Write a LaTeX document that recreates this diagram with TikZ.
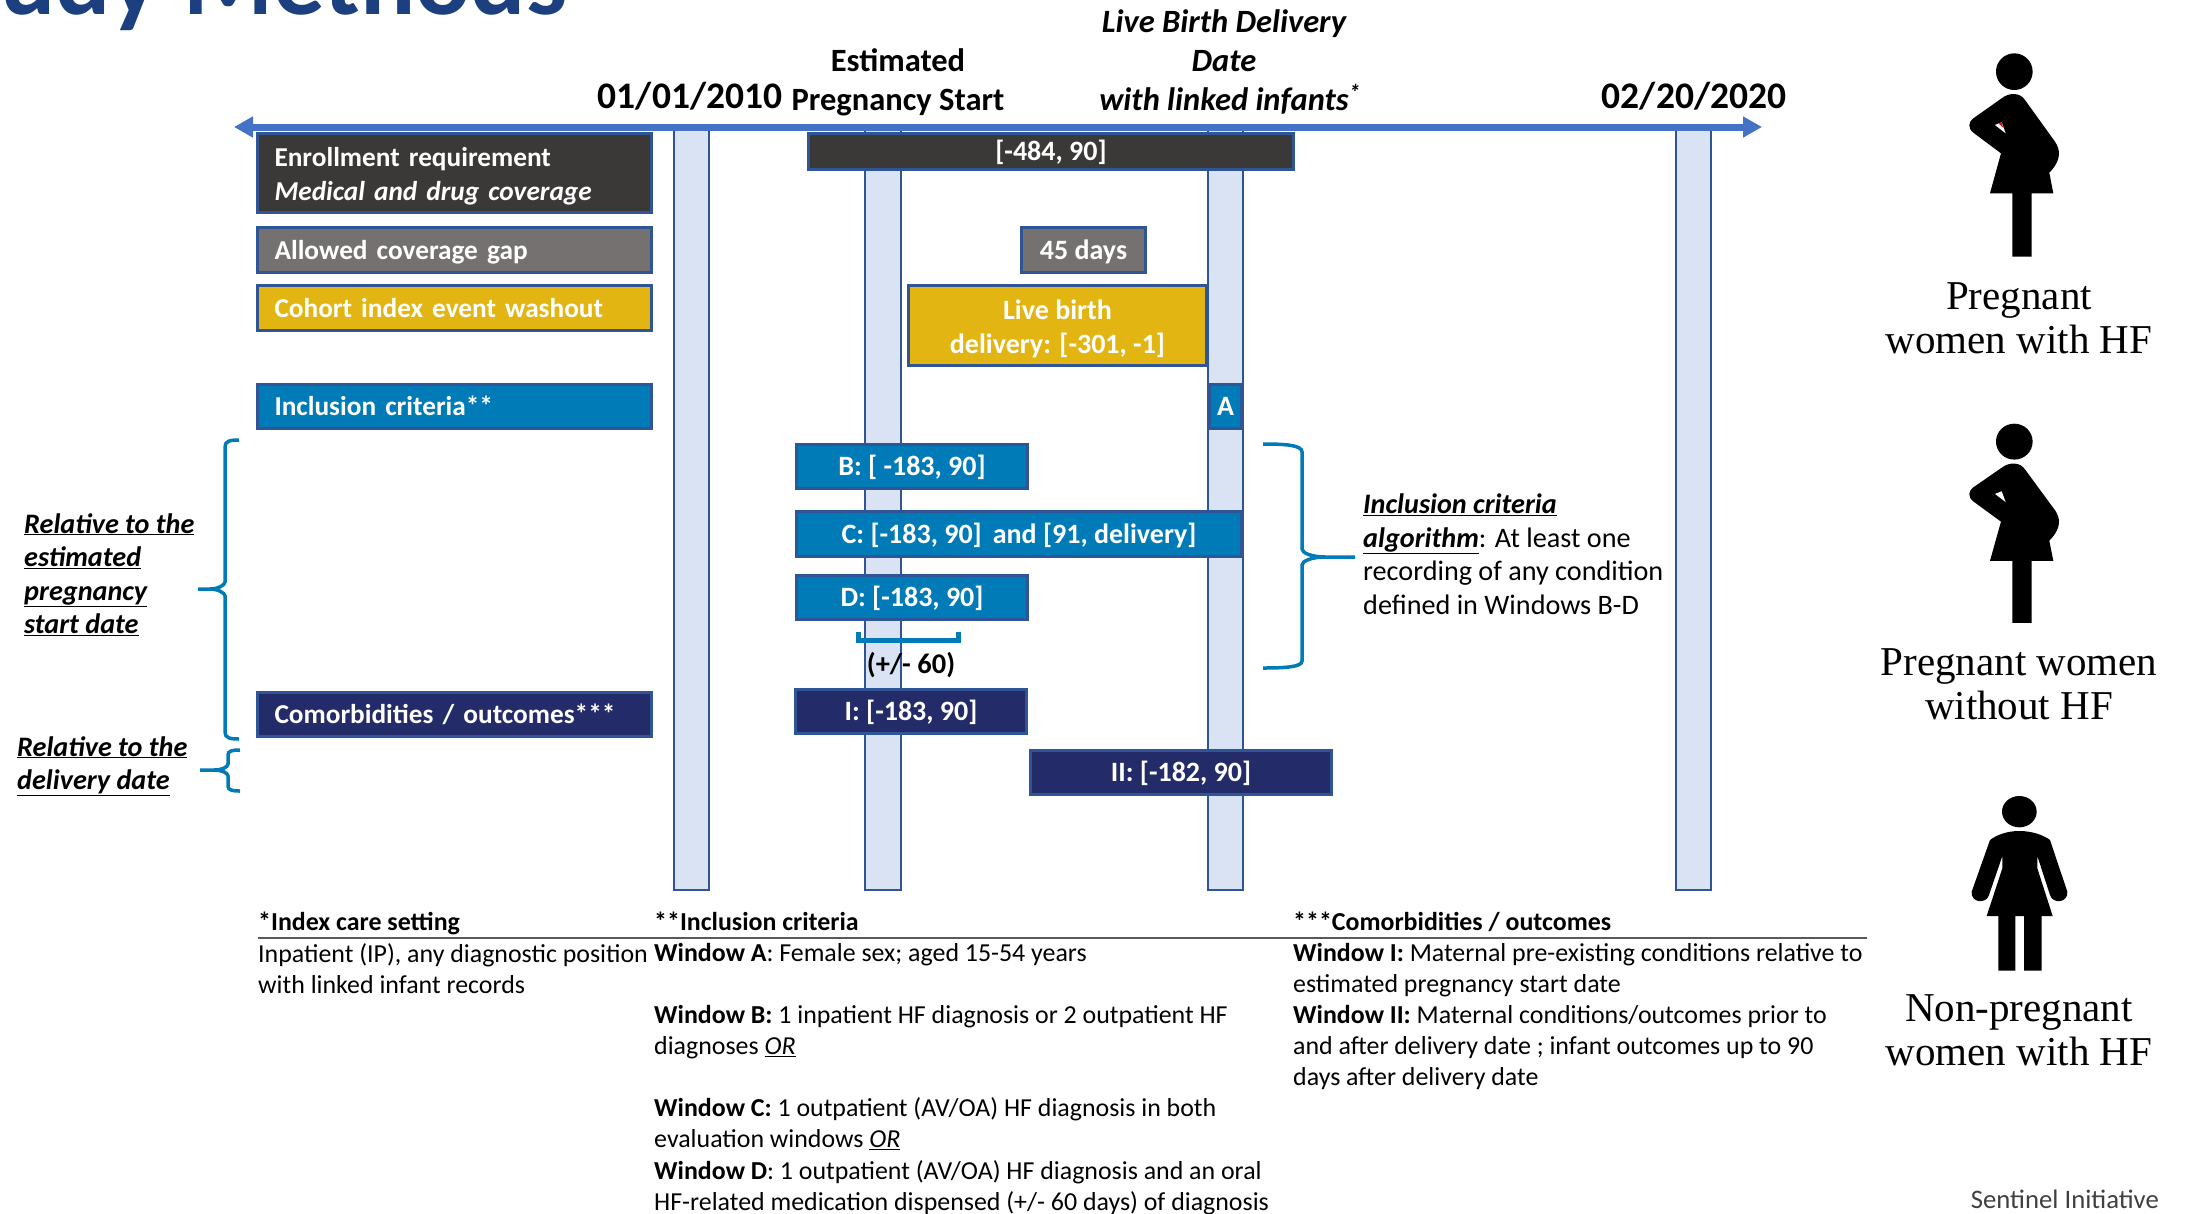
\documentclass[tikz,border=0pt]{standalone}
\usepackage{fontspec}
\setmainfont{Carlito}
\newfontfamily\capfont{Liberation Serif}
\usepackage{xcolor}
\usepackage{tikz}
\usetikzlibrary{arrows.meta}
\definecolor{barblue}{HTML}{DAE3F3}
\definecolor{edgeblue}{HTML}{2F5597}
\definecolor{axisblue}{HTML}{4472C4}
\definecolor{darkbox}{HTML}{3B3838}
\definecolor{greybox}{HTML}{767171}
\definecolor{goldbox}{HTML}{E3B512}
\definecolor{incbox}{HTML}{007BB8}
\definecolor{navybox}{HTML}{232C68}
\definecolor{titleblue}{HTML}{1B3F7F}
\tikzset{
	time bar/.style={draw=edgeblue,fill=barblue,line width=2.5pt},
	main box/.style={draw=edgeblue,line width=3pt,anchor=north west,text=white,inner sep=0pt,
		font=\bfseries\fontsize{28}{34}\selectfont},
	row box/.style={main box,font=\bfseries\fontsize{27.3}{34}\selectfont,minimum width=394pt,inner xsep=17pt,text width=360pt,align=left},
	window box/.style={main box,align=center},
	one line/.style={text height=24pt,text depth=6pt},
	head text/.style={inner sep=0pt,align=center,font=\bfseries\fontsize{32.5}{39}\selectfont},
	side text/.style={inner sep=0pt,align=left,anchor=north west,font=\bfseries\itshape\fontsize{28.2}{33.5}\selectfont},
	note text/.style={inner sep=0pt,align=left,anchor=north west,font=\fontsize{25.9}{31.1}\selectfont},
	brace line/.style={draw=incbox,line width=3.5pt},
	cap text/.style={inner sep=0pt,align=center,font=\capfont\fontsize{41}{44}\selectfont},
	pregnant figure/.pic={
		\begin{scope}[scale=0.3333]
		\fill (943,155) circle (55);
		\fill (940,222) .. controls (958,222) and (968,230) .. (975,240) -- (1065,365)
			.. controls (1082,390) and (1085,420) .. (1048,458) -- (1060,520) -- (995,520) -- (995,710)
			-- (937,710) -- (937,520) -- (870,520) -- (903,400) -- (820,338)
			.. controls (803,325) and (805,305) .. (820,295) -- (905,235)
			.. controls (915,227) and (928,222) .. (940,222) -- cycle;
		\fill[white] (885,315) -- (905,307) -- (917,340) -- cycle;
		\end{scope}
	}
}
\begin{document}
\begin{tikzpicture}[x=1pt,y=-1pt]
	\clip (0,0) rectangle (2186,1213);
	\node [anchor=base east,inner sep=0pt,text=titleblue,font=\bfseries\fontsize{103}{103}\selectfont] (title) at (567,14) {Study Methods};

	\draw [time bar] (674,127) rectangle (709,890);
	\draw [time bar] (865,127) rectangle (901,890);
	\draw [time bar] (1208,127) rectangle (1243,890);
	\draw [time bar] (1676,127) rectangle (1711,890);
	\coordinate (axisl) at (234,127);
	\coordinate (axisr) at (1762,127);
	\draw [axisblue,line width=7pt,{Triangle[length=19pt,width=20pt]}-{Triangle[length=19pt,width=20pt]}] (axisl) -- (axisr);

	\node [head text] (start) at (690,96) {\fontsize{37.5}{39}\selectfont 01/01/2010};
	\node [head text] (end) at (1694,96) {\fontsize{37.5}{39}\selectfont 02/20/2020};
	\node [head text,anchor=base] (preg) at (898,110) {Estimated\\Pregnancy Start};
	\node [head text,anchor=base,font=\bfseries\itshape\fontsize{32.5}{39}\selectfont] (birth) at (1224,110) {Live Birth Delivery\\Date\\with linked infants\rlap{\textsuperscript{*}}};

	\node [row box,fill=darkbox,minimum height=79pt] (enroll) at (256,132) {\rule{0pt}{26pt}Enrollment requirement\\\textit{Medical and drug coverage}};
	\node [row box,one line,fill=greybox,minimum height=45pt] (gap) at (256,226) {Allowed coverage gap};
	\node [row box,one line,fill=goldbox,minimum height=45pt] (wash) at (256,284) {Cohort index event washout};
	\node [row box,one line,fill=incbox,minimum height=44pt] (incl) at (256,383) {Inclusion criteria**};
	\node [row box,one line,fill=navybox,minimum height=44pt] (como) at (256,691) {Comorbidities / outcomes***};

	\node [window box,one line,fill=darkbox,minimum width=485pt,minimum height=36pt] (w0) at (807,132) {[-484, 90]};
	\node [window box,one line,fill=greybox,minimum width=124pt,minimum height=45pt] (w1) at (1020,226) {45 days};
	\node [window box,fill=goldbox,minimum width=298pt,minimum height=80pt] (w2) at (907,284) {\rule{0pt}{27pt}Live birth\\delivery: [-301, -1]};
	\node [window box,one line,fill=incbox,minimum width=32pt,minimum height=44pt] (wa) at (1208,383) {A};
	\node [window box,one line,fill=incbox,minimum width=231pt,minimum height=44pt] (wb) at (795,443) {B: [ -183, 90]};
	\node [window box,one line,fill=incbox,minimum width=445pt,minimum height=45pt] (wc) at (795,510) {C: [-183, 90]\, and [91, delivery]};
	\node [window box,one line,fill=incbox,minimum width=231pt,minimum height=44pt] (wd) at (795,574) {D: [-183, 90]};
	\node [window box,one line,fill=navybox,minimum width=231pt,minimum height=44pt] (wi) at (794,688) {I: [-183, 90]};
	\node [window box,one line,fill=navybox,minimum width=301pt,minimum height=44pt] (wii) at (1029,749) {II: [-182, 90]};

	\draw [incbox,line width=5pt] (858,632) -- (858,640) -- (958,640) -- (958,632);
	\node [inner sep=0pt,font=\bfseries\fontsize{28.5}{33}\selectfont] (pm) at (911,665) {(+/- 60)};

	\draw [brace line] (239,440) .. controls (230,440) and (225,441) .. (225,447) -- (225,582)
		.. controls (225,585) and (218,589) .. (210,589) -- (198,589) -- (210,589)
		.. controls (218,589) and (225,593) .. (225,596) -- (225,732) .. controls (225,738) and (230,739) .. (239,739);
	\draw [brace line] (240,750) .. controls (232,750) and (228,751) .. (228,755) -- (228,764)
		.. controls (228,767) and (222,770) .. (214,770) -- (200,770) -- (214,770)
		.. controls (222,770) and (228,773) .. (228,776) -- (228,786) .. controls (228,790) and (232,791) .. (240,791);
	\draw [brace line] (1263,444) .. controls (1285,444) and (1302,445) .. (1302,452) -- (1302,549)
		.. controls (1302,553) and (1312,557) .. (1325,557) -- (1355,557) -- (1325,557)
		.. controls (1312,557) and (1302,561) .. (1302,565) -- (1302,661) .. controls (1302,667) and (1285,668) .. (1263,668);

	\node [side text] (rel1) at (24,513) {\underline{Relative to the}\\\underline{estimated}\\\underline{pregnancy}\\\underline{start date}};
	\node [side text] (rel2) at (17,736) {\underline{Relative to the}\\\underline{delivery date}};
	\node [note text,font=\fontsize{28.2}{33.5}\selectfont] (algo) at (1363,494) {\textbf{\textit{\underline{Inclusion criteria}}}\\\textbf{\textit{\underline{algorithm}}}: At least one\\recording of any condition\\defined in Windows B-D};

	\node [note text,font=\bfseries\fontsize{25.9}{31.1}\selectfont] (n1) at (258,912) {*Index care setting};
	\node [note text,font=\bfseries\fontsize{25.9}{31.1}\selectfont] (n2) at (654,912) {**Inclusion criteria};
	\node [note text,font=\bfseries\fontsize{25.9}{31.1}\selectfont] (n3) at (1293,912) {***Comorbidities / outcomes};
	\coordinate (rulel) at (258,938);
	\coordinate (ruler) at (1867,938);
	\draw [black!65,line width=2.5pt] (rulel) -- (ruler);
	\node [note text] (t1) at (258,943) {Inpatient (IP), any diagnostic position\\with linked infant records};
	\node [note text] (t2) at (654,943) {\textbf{Window A}: Female sex; aged 15-54 years\\~\\\textbf{Window B:} 1 inpatient HF diagnosis or 2 outpatient HF\\diagnoses \textit{\underline{OR}}\\~\\\textbf{Window C:} 1 outpatient (AV/OA) HF diagnosis in both\\evaluation windows \textit{\underline{OR}}\\\textbf{Window D}: 1 outpatient (AV/OA) HF diagnosis and an oral\\HF-related medication dispensed (+/- 60 days) of diagnosis};
	\node [note text] (t3) at (1293,943) {\textbf{Window I:} Maternal pre-existing conditions relative to\\estimated pregnancy start date\\\textbf{Window II:} Maternal conditions/outcomes prior to\\and after delivery date ; infant outcomes up to 90\\days after delivery date};

	\pic at (1700,20) {pregnant figure};
	\fill [red] (1998.7,123.7) -- (2001.7,122.3) -- (2003,127.3) -- cycle;
	\pic [yscale=0.98] at (1700,391) {pregnant figure};
	\begin{scope}[shift={(1880,780)},scale=0.3333]
		\fill (418,95) ellipse (52 and 47);
		\fill (418,153) .. controls (380,153) and (350,165) .. (330,180) -- (275,335)
			.. controls (272,370) and (320,372) .. (327,345) -- (367,228) -- (367,265) -- (320,408) -- (355,408)
			-- (355,572) -- (406,572) -- (406,408) -- (432,408) -- (432,572) -- (485,572) -- (485,408)
			-- (518,408) -- (472,265) -- (472,228) -- (510,345)
			.. controls (517,372) and (565,370) .. (562,335) -- (510,180)
			.. controls (490,165) and (456,153) .. (418,153) -- cycle;
	\end{scope}

	\node [cap text,anchor=base] (c1) at (2019,353) {Pregnant\\women with HF};
	\node [cap text,anchor=base] (c2) at (2019,719) {Pregnant women\\without HF};
	\node [cap text,anchor=base] (c3) at (2019,1065) {Non-pregnant\\women with HF};
	\node [inner sep=0pt,anchor=east,text=black!75,font=\fontsize{26.7}{30}\selectfont] (sent) at (2159,1199) {Sentinel Initiative};
\end{tikzpicture}
\end{document}
